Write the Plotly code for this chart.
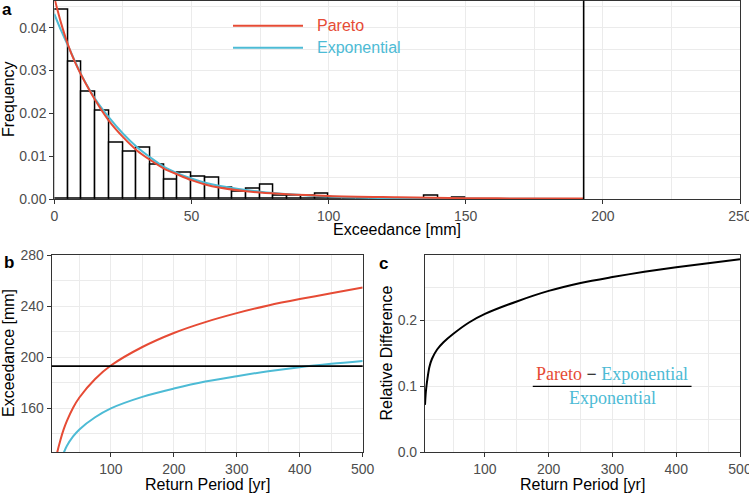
import plotly.graph_objects as go

# ---------------- data ----------------
# Panel a: histogram of exceedances (bin width 5 mm)
bin_width = 5
bin_left = [0, 5, 10, 15, 20, 25, 30, 35, 40, 45, 50, 55, 60, 65, 70, 75, 80, 85, 90, 95,
            100, 105, 110, 115, 120, 125, 130, 135, 140, 145]
bin_freq = [0.0442, 0.0320, 0.0250, 0.0207, 0.0131, 0.0110, 0.0119, 0.0080, 0.0044, 0.0062,
            0.0053, 0.0049, 0.0026, 0.0018, 0.0024, 0.0034, 0.0008, 0.0008, 0.0008, 0.0012,
            0.0, 0.0, 0.0, 0.0, 0.0, 0.0, 0.0, 0.0008, 0.0, 0.0004]

# fitted densities
dens_x = [0, 2.5, 5, 7.5, 10, 15, 20, 25, 30, 35, 40, 45, 50, 55, 60, 75, 100, 125, 150, 175, 193]
pareto_dens = [0.0470, 0.0410, 0.0360, 0.0320, 0.0287, 0.0230, 0.0182, 0.0145, 0.0114, 0.0091,
               0.0071, 0.0057, 0.0044, 0.0034, 0.0027, 0.0015, 0.0007, 0.0004, 0.0002, 0.00012, 0.0001]
exp_dens = [0.0432, 0.0393, 0.0358, 0.0322, 0.0288, 0.0233, 0.0190, 0.0153, 0.0122, 0.0097,
            0.0075, 0.0060, 0.0048, 0.0038, 0.0031, 0.0017, 0.0006, 0.0002, 0.0001, 0.00003, 0.00001]

# observed event (mm)
event_mm = 193

# Panel b: return levels
return_period = [12, 15, 20, 25, 30, 40, 50, 75, 100, 150, 200, 250, 300, 350, 400, 450, 500]
pareto_rl = [118, 126, 135.5, 143.5, 150, 160.5, 168.5, 183, 193.5, 208, 219, 227.5, 234.5,
             240.5, 245.5, 250, 254.5]
exp_rl = [104, 110.5, 118.5, 125, 130.5, 138, 143.5, 153, 160, 169, 175.5, 181, 185.2,
          189, 192.2, 194.8, 197]

# Panel c: relative difference
rel_period = [6, 7, 8, 10, 13, 17, 25, 35, 50, 75, 100, 150, 200, 250, 300, 350, 400, 450, 500]
rel_diff = [0.072, 0.088, 0.098, 0.113, 0.130, 0.142, 0.156, 0.167, 0.1795, 0.197, 0.210, 0.229,
            0.245, 0.257, 0.266, 0.274, 0.281, 0.287, 0.293]

RED = "#E64B35"
BLUE = "#4DBBD5"
W, H = 749, 493
FONT = "Liberation Sans, Arial, Helvetica, sans-serif"


def fx(px):
    return px / W


def fy(py):
    return 1 - py / H


fig = go.Figure()

bin_centers = [b + bin_width / 2 for b in bin_left]
fig.add_trace(go.Bar(x=bin_centers, y=bin_freq, width=bin_width,
                     marker=dict(color="white", line=dict(color="black", width=1.5)),
                     xaxis="x", yaxis="y", showlegend=False))
line_kw = dict(shape="spline", smoothing=0.9, width=2)
fig.add_trace(go.Scatter(x=dens_x, y=exp_dens, mode="lines", line=dict(color=BLUE, **line_kw),
                         xaxis="x", yaxis="y", showlegend=False))
fig.add_trace(go.Scatter(x=dens_x, y=pareto_dens, mode="lines", line=dict(color=RED, **line_kw),
                         xaxis="x", yaxis="y", showlegend=False))

fig.add_trace(go.Scatter(x=return_period, y=pareto_rl, mode="lines", line=dict(color=RED, **line_kw),
                         xaxis="x2", yaxis="y2", showlegend=False))
fig.add_trace(go.Scatter(x=return_period, y=exp_rl, mode="lines", line=dict(color=BLUE, **line_kw),
                         xaxis="x2", yaxis="y2", showlegend=False))

fig.add_trace(go.Scatter(x=rel_period, y=rel_diff, mode="lines", line=dict(color="black", **line_kw),
                         xaxis="x3", yaxis="y3", showlegend=False))

common = dict(showline=True, mirror=True, linecolor="#333333", linewidth=1.1,
              ticks="outside", ticklen=4, tickwidth=1.1, tickcolor="#333333",
              showgrid=True, gridcolor="#EBEBEB", gridwidth=1.1, zeroline=False,
              automargin=False, ticklabeloverflow="allow",
              tickfont=dict(family=FONT, size=14, color="#4D4D4D"))


def ax(**kw):
    d = dict(common)
    minor_dtick = kw.pop("minor_dtick")
    d["minor"] = dict(showgrid=True, gridcolor="#EBEBEB", gridwidth=0.6, dtick=minor_dtick)
    d.update(kw)
    return d


fig.update_layout(
    width=W, height=H,
    margin=dict(l=0, r=0, t=0, b=0, autoexpand=False),
    paper_bgcolor="white", plot_bgcolor="white",
    bargap=0,
    xaxis=ax(domain=[fx(54.3), fx(740)], range=[0, 250], dtick=50, tick0=0, minor_dtick=25, anchor="y"),
    yaxis=ax(domain=[fy(199), fy(0.7)], range=[0, 0.0463], dtick=0.01, tick0=0, tickformat=".2f",
             minor_dtick=0.005, anchor="x"),
    xaxis2=ax(domain=[fx(51.7), fx(362.7)], range=[6, 500], dtick=100, tick0=0, minor_dtick=50, anchor="y2"),
    yaxis2=ax(domain=[fy(452.3), fy(255)], range=[125.6, 280], dtick=40, tick0=0, minor_dtick=20, anchor="x2"),
    xaxis3=ax(domain=[fx(425), fx(740)], range=[6, 500], dtick=100, tick0=0, minor_dtick=50, anchor="y3"),
    yaxis3=ax(domain=[fy(452.3), fy(255)], range=[0, 0.2995], dtick=0.1, tick0=0, tickformat=".1f",
              minor_dtick=0.05, anchor="x3"),
)

shapes = [
    dict(type="line", xref="x", yref="y domain", x0=event_mm, x1=event_mm, y0=0, y1=1,
         line=dict(color="black", width=1.6)),
    dict(type="line", xref="x2 domain", yref="y2", x0=0, x1=1, y0=event_mm, y1=event_mm,
         line=dict(color="black", width=1.6)),
    # legend keys
    dict(type="line", xref="paper", yref="paper", x0=fx(233), x1=fx(303), y0=fy(25.7), y1=fy(25.7),
         line=dict(color=RED, width=2)),
    dict(type="line", xref="paper", yref="paper", x0=fx(233), x1=fx(303), y0=fy(47.7), y1=fy(47.7),
         line=dict(color=BLUE, width=2)),
    # fraction bar
    dict(type="line", xref="x3", yref="y3", x0=175, x1=424, y0=0.1, y1=0.1,
         line=dict(color="black", width=1.3)),
]

title_font = dict(family=FONT, size=16, color="black")
label_font = dict(family=FONT, size=17, color="black")
serif = dict(family="Liberation Serif, Times New Roman, serif", size=18, color="black")

annotations = [
    dict(text="<b>a</b>", x=fx(0), y=fy(9.5), xanchor="left", yanchor="middle", font=label_font),
    dict(text="<b>b</b>", x=fx(1.5), y=fy(262.5), xanchor="left", yanchor="middle", font=label_font),
    dict(text="<b>c</b>", x=fx(377), y=fy(263), xanchor="left", yanchor="middle", font=label_font),
    dict(text="Frequency", x=fx(8.5), y=fy(99.5), textangle=-90, xanchor="center", yanchor="middle", font=title_font),
    dict(text="Exceedance [mm]", x=fx(397.4), y=fy(230), xanchor="center", yanchor="middle", font=title_font),
    dict(text="Exceedance [mm]", x=fx(8.5), y=fy(353.5), textangle=-90, xanchor="center", yanchor="middle", font=title_font),
    dict(text="Return Period [yr]", x=fx(207), y=fy(484), xanchor="center", yanchor="middle", font=title_font),
    dict(text="Relative Difference", x=fx(386), y=fy(353.5), textangle=-90, xanchor="center", yanchor="middle", font=title_font),
    dict(text="Return Period [yr]", x=fx(582.5), y=fy(484), xanchor="center", yanchor="middle", font=title_font),
    dict(text="Pareto", x=fx(315), y=fy(25.7), xanchor="left", yanchor="middle",
         font=dict(family=FONT, size=16, color=RED)),
    dict(text="Exponential", x=fx(315), y=fy(47.7), xanchor="left", yanchor="middle",
         font=dict(family=FONT, size=16, color=BLUE)),
]
for a in annotations:
    a.update(xref="paper", yref="paper", showarrow=False)

annotations += [
    dict(text=f"<span style='color:{RED}'>Pareto</span> \u2212 <span style='color:{BLUE}'>Exponential</span>",
         xref="x3", yref="y3", x=300, y=0.1, xanchor="center", yanchor="bottom", showarrow=False,
         font=serif),
    dict(text=f"<span style='color:{BLUE}'>Exponential</span>",
         xref="x3", yref="y3", x=300, y=0.1, xanchor="center", yanchor="top", showarrow=False,
         font=serif),
]

fig.update_layout(shapes=shapes, annotations=annotations)
fig.write_html("out.html")
